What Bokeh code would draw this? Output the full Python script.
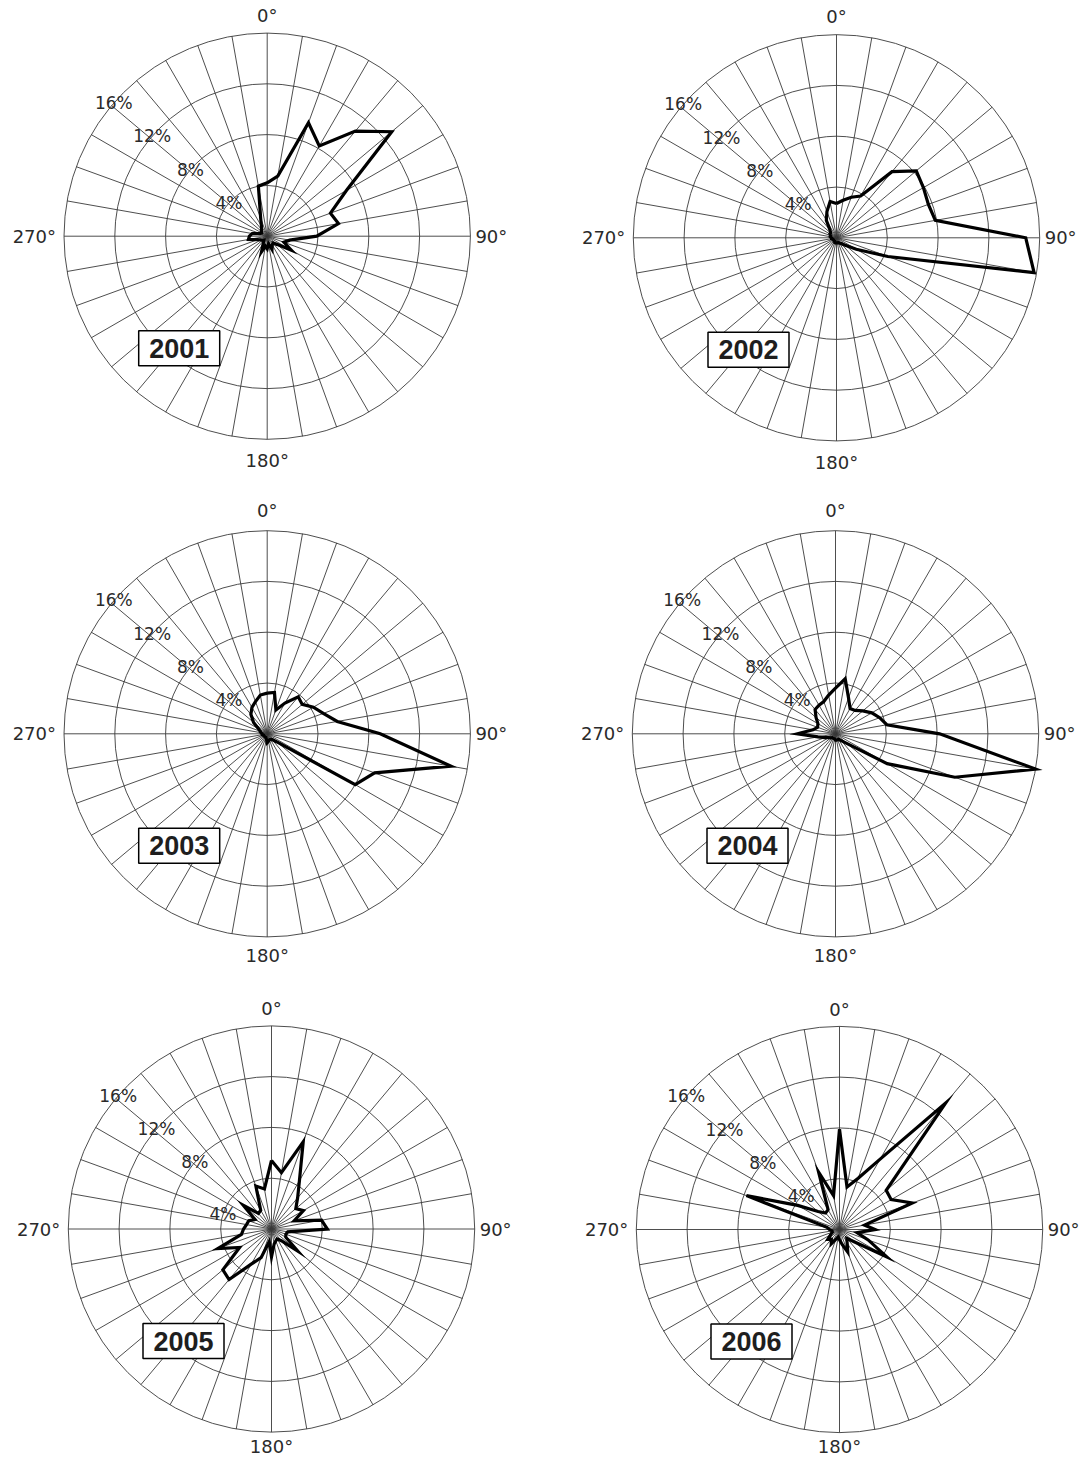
import math
from bokeh.plotting import figure
from bokeh.layouts import column, row
from bokeh.models import Range1d
from bokeh.embed import file_html
from bokeh.resources import INLINE
from bokeh.core.properties import value

# ---------------- data ----------------
directions = [0, 10, 20, 30, 40, 50, 60, 70, 80, 90, 100, 110,
              120, 130, 140, 150, 160, 170, 180, 190, 200, 210, 220, 230,
              240, 250, 260, 270, 280, 290, 300, 310, 320, 330, 340, 350]

years = ["2001", "2002", "2003", "2004", "2005", "2006"]

v2001 = [4.2, 4.8, 9.5, 8.2, 10.8, 12.8, 7.2, 5.3, 5.7, 3.9, 1.8, 1.4,
         2.2, 1.0, 0.7, 0.8, 1.1, 0.6, 1.0, 0.8, 1.3, 0.6, 0.4, 0.5,
         0.6, 0.8, 1.5, 1.4, 1.2, 0.6, 0.5, 0.6, 0.7, 0.9, 1.5, 4.0]
v2002 = [2.7, 3.0, 3.4, 3.8, 6.8, 8.2, 7.9, 7.7, 7.9, 14.9, 15.8, 4.3,
         1.8, 0.9, 0.6, 0.5, 0.4, 0.4, 0.4, 0.4, 0.4, 0.3, 0.3, 0.3,
         0.3, 0.3, 0.4, 0.4, 0.5, 0.5, 0.6, 0.6, 0.8, 1.6, 2.2, 2.9]
v2003 = [3.2, 3.3, 2.0, 2.8, 3.8, 3.6, 4.2, 4.7, 5.6, 8.9, 14.7, 9.0,
         8.0, 1.0, 0.6, 0.5, 0.5, 0.6, 0.7, 0.4, 0.3, 0.3, 0.3, 0.3,
         0.3, 0.3, 0.4, 0.4, 0.5, 0.6, 0.8, 1.4, 2.0, 2.4, 2.7, 3.1]
v2004 = [3.6, 4.4, 3.0, 2.3, 2.4, 2.8, 3.3, 3.7, 4.1, 8.2, 16.0, 10.0,
         4.7, 1.2, 0.7, 0.5, 0.5, 0.5, 0.5, 0.4, 0.4, 0.4, 0.4, 0.5,
         0.6, 0.9, 1.4, 3.0, 1.8, 1.5, 1.6, 2.0, 2.5, 2.6, 2.7, 3.1]
v2005 = [5.4, 4.5, 7.3, 4.4, 3.2, 2.5, 2.9, 1.9, 4.0, 4.4, 1.3, 1.2,
         1.3, 2.7, 1.2, 0.9, 1.0, 1.2, 2.2, 1.0, 2.4, 3.2, 5.2, 5.0,
         2.9, 4.5, 2.4, 2.2, 2.0, 1.9, 1.5, 2.9, 1.6, 1.7, 3.6, 3.2]
v2006 = [7.9, 3.4, 4.3, 6.4, 13.0, 4.8, 4.7, 6.1, 2.0, 2.8, 1.4, 2.4,
         4.3, 1.5, 0.9, 1.2, 1.9, 1.2, 0.8, 0.6, 0.8, 1.3, 1.0, 1.2,
         0.8, 0.6, 0.6, 0.8, 1.0, 7.8, 3.8, 2.2, 1.7, 1.8, 4.8, 2.7]

ring_levels = [4, 8, 12, 16]
ring_labels = ["4%", "8%", "12%", "16%"]
compass_labels = ["0°", "90°", "180°", "270°"]

series = [v2001, v2002, v2003, v2004, v2005, v2006]

# ---------------- layout ----------------
S = 12.7          # pixels per percent
RMAX = 16
col_w = [552, 537]
row_h = [486, 496, 480]
# centre of each polar panel inside its figure (px)
centres = [(266.7, 235.7), (284.0, 237.3),
           (266.7, 247.3), (283.0, 247.3),
           (271.0, 246.5), (287.0, 247.0)]
top_off = [-18, -20, -17]
bot_off = [21, 18, 14]
# bearing (deg) at which the percent labels sit, per ring
label_bearings = [[311, 311, 311, 311]] * 4 + [[287, 311, 311, 311], [311, 311, 311, 311]]

FONT = "DejaVu Sans"
GRID = "#3a3a3a"
TXT = "#2a2a2a"


def make_panel(i):
    W = col_w[i % 2]
    H = row_h[i // 2]
    cx, cy = centres[i]
    p = figure(width=W, height=H,
               x_range=Range1d(-cx / S, (W - cx) / S),
               y_range=Range1d(-(H - cy) / S, cy / S),
               x_axis_type=None, y_axis_type=None,
               output_backend="svg", toolbar_location=None, tools="",
               min_border=0)
    p.grid.visible = False
    p.outline_line_color = None
    p.background_fill_color = "white"
    p.border_fill_color = "white"

    # spokes
    rad = [math.radians(d) for d in directions]
    p.segment(x0=[0] * len(rad), y0=[0] * len(rad),
              x1=[RMAX * math.sin(a) for a in rad],
              y1=[RMAX * math.cos(a) for a in rad],
              line_color=GRID, line_width=0.9)
    # rings
    p.circle(x=[0] * len(ring_levels), y=[0] * len(ring_levels), radius=ring_levels,
             fill_color=None, line_color=GRID, line_width=0.9)

    # data polygon
    vals = series[i]
    xs = [v * math.sin(a) for v, a in zip(vals, rad)]
    ys = [v * math.cos(a) for v, a in zip(vals, rad)]
    xs.append(xs[0])
    ys.append(ys[0])
    p.line(xs, ys, line_color="black", line_width=3.2, line_join="miter")

    # percent labels
    lb = [math.radians(b) for b in label_bearings[i]]
    p.text(x=[r * math.sin(b) for r, b in zip(ring_levels, lb)],
           y=[r * math.cos(b) for r, b in zip(ring_levels, lb)],
           text=ring_labels, text_font=value(FONT), text_font_size=value("17px"),
           text_color=TXT, text_align="center", text_baseline="middle")

    # compass labels
    r_i = i // 2
    p.text(x=[0], y=[RMAX], text=[compass_labels[0]], y_offset=top_off[r_i],
           text_font=value(FONT), text_font_size=value("18px"), text_color=TXT,
           text_align="center", text_baseline="middle")
    p.text(x=[RMAX], y=[0], text=[compass_labels[1]], x_offset=5,
           text_font=value(FONT), text_font_size=value("18px"), text_color=TXT,
           text_align="left", text_baseline="middle")
    p.text(x=[0], y=[-RMAX], text=[compass_labels[2]], y_offset=bot_off[r_i],
           text_font=value(FONT), text_font_size=value("18px"), text_color=TXT,
           text_align="center", text_baseline="middle")
    p.text(x=[-RMAX], y=[0], text=[compass_labels[3]], x_offset=-8,
           text_font=value(FONT), text_font_size=value("18px"), text_color=TXT,
           text_align="right", text_baseline="middle")

    # year box
    bx, by = -88 / S, -112 / S
    p.rect(x=[bx], y=[by], width=81, height=35, width_units="screen",
           height_units="screen", fill_color="white", line_color="black",
           line_width=1.5)
    p.text(x=[bx], y=[by], text=[years[i]], text_font=value("Liberation Sans"),
           text_font_style="bold", text_font_size=value("27px"), text_color="#1e1e1e",
           text_align="center", text_baseline="middle")
    return p


panels = [make_panel(i) for i in range(6)]
layout = column(row(panels[0], panels[1]),
                row(panels[2], panels[3]),
                row(panels[4], panels[5]))

open("out.html", "w").write(file_html(layout, INLINE))
